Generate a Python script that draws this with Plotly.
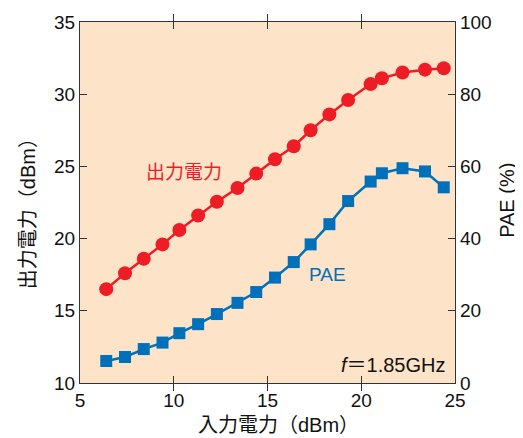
import plotly.graph_objects as go

input_dbm = [6.4, 7.4, 8.4, 9.4, 10.3, 11.3, 12.3, 13.4, 14.4, 15.4, 16.4,
             17.3, 18.3, 19.3, 20.5, 21.1, 22.2, 23.4, 24.4]
output_dbm = [16.5, 17.6, 18.6, 19.6, 20.6, 21.6, 22.55, 23.5, 24.5, 25.5, 26.4,
              27.5, 28.6, 29.6, 30.7, 31.1, 31.5, 31.7, 31.8]
pae_pct = [6.1, 7.2, 9.4, 11.2, 13.8, 16.3, 19.1, 22.2, 25.2, 29.2, 33.5,
           38.4, 44.0, 50.4, 55.8, 58.1, 59.5, 58.6, 54.2]

RED = "#ee1c25"
BLUE = "#0070bb"
BG = "#fde3c8"
FONT = "Liberation Sans, Noto Sans CJK JP, sans-serif"

fig = go.Figure()
fig.add_trace(go.Scatter(x=input_dbm, y=output_dbm, mode="lines+markers",
                         line=dict(color=RED, width=2.5),
                         marker=dict(symbol="circle", size=14, color=RED),
                         yaxis="y", showlegend=False))
fig.add_trace(go.Scatter(x=input_dbm, y=pae_pct, mode="lines+markers",
                         line=dict(color=BLUE, width=2.5),
                         marker=dict(symbol="square", size=12, color=BLUE),
                         yaxis="y2", showlegend=False))

axis_common = dict(showline=True, linecolor="#333333", linewidth=1.2,
                   ticks="inside", ticklen=7, tickcolor="#333333",
                   showgrid=False, zeroline=False, automargin=False,
                   tickfont=dict(family=FONT, size=19, color="#111111"))

title_font = dict(family=FONT, size=20, color="#111111")

fig.update_layout(
    width=515, height=430,
    margin=dict(l=72, r=68, t=14, b=55),
    paper_bgcolor="white", plot_bgcolor=BG,
    font=dict(family=FONT, size=18, color="#111111"),
    xaxis=dict(range=[5, 25], dtick=5, mirror="allticks", **axis_common),
    yaxis=dict(range=[10, 35], dtick=5, **axis_common),
    yaxis2=dict(range=[0, 100], dtick=20, overlaying="y", side="right",
                **axis_common),
    annotations=[
        dict(x=0.53, y=-0.1165, xref="paper", yref="paper",
             text="入力電力（dBm）", showarrow=False,
             xanchor="center", yanchor="middle", font=title_font),
        dict(x=-0.139, y=0.484, xref="paper", yref="paper",
             text="出力電力（dBm）", showarrow=False, textangle=-90,
             xanchor="center", yanchor="middle", font=title_font),
        dict(x=1.14, y=0.506, xref="paper", yref="paper",
             text="PAE (%)", showarrow=False, textangle=-90,
             xanchor="center", yanchor="middle", font=title_font),
        dict(x=10.55, y=24.55, xref="x", yref="y", text="出力電力", showarrow=False,
             font=dict(family=FONT, size=19, color=RED)),
        dict(x=18.2, y=30, xref="x", yref="y2", text="PAE", showarrow=False,
             font=dict(family=FONT, size=19, color=BLUE)),
        dict(x=24.62, y=11.25, xref="x", yref="y", text="<i>f</i>＝1.85GHz",
             showarrow=False, xanchor="right",
             font=dict(family=FONT, size=20, color="#111111")),
    ],
)

fig.write_html("out.html")
